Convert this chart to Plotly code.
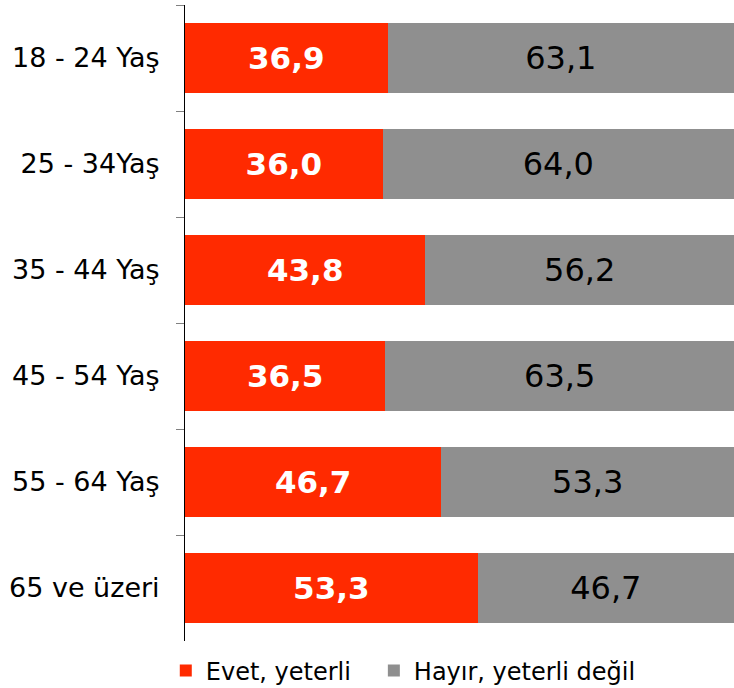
import plotly.graph_objects as go

categories = ["18 - 24 Yaş", "25 - 34Yaş", "35 - 44 Yaş", "45 - 54 Yaş", "55 - 64 Yaş", "65 ve üzeri"]
evet = [36.9, 36.0, 43.8, 36.5, 46.7, 53.3]
hayir = [63.1, 64.0, 56.2, 63.5, 53.3, 46.7]
series_names = ["Evet, yeterli", "Hayır, yeterli değil"]

def fmt(v):
    return f"{v:.1f}".replace(".", ",")

FONT = "DejaVu Sans, Verdana, sans-serif"

fig = go.Figure()
fig.add_trace(go.Bar(
    y=categories, x=evet, orientation="h", name=series_names[0],
    marker=dict(color="#FF2A00", line=dict(width=0)),
    text=[fmt(v) for v in evet], textposition="inside", insidetextanchor="middle",
    texttemplate="<b>%{text}</b>",
    textfont=dict(family=FONT, size=31, color="white"),
    constraintext="none", hoverinfo="skip", legend="legend",
))
fig.add_trace(go.Bar(
    y=categories, x=hayir, orientation="h", name=series_names[1],
    marker=dict(color="#8F8F8F", line=dict(width=0)),
    text=[fmt(v) for v in hayir], textposition="inside", insidetextanchor="middle",
    textfont=dict(family=FONT, size=32, color="black"),
    constraintext="none", hoverinfo="skip", legend="legend2",
))

legend_common = dict(orientation="h", xanchor="left", y=-0.047, yanchor="middle",
                     font=dict(family=FONT, size=24, color="black"),
                     bgcolor="rgba(0,0,0,0)")

fig.update_layout(
    width=734, height=688,
    barmode="stack", bargap=0.34,
    margin=dict(l=185, r=0, t=5, b=47, autoexpand=False),
    paper_bgcolor="white", plot_bgcolor="white",
    font=dict(family=FONT, color="black"),
    showlegend=True,
    legend=dict(x=-0.035, **legend_common),
    legend2=dict(x=0.344, **legend_common),
    xaxis=dict(range=[0, 100], visible=False, showgrid=False, zeroline=False,
               automargin=False),
    yaxis=dict(categoryorder="array", categoryarray=categories, autorange="reversed",
               showline=True, linecolor="black", linewidth=1,
               ticks="outside", tickson="boundaries", ticklen=8, tickcolor="#808080",
               ticklabelstandoff=19, automargin=False,
               tickfont=dict(family=FONT, size=27, color="black"),
               showgrid=False, zeroline=False),
)

fig.write_html("out.html", config={"displayModeBar": False},
               post_script="document.body.style.margin='0px';")
